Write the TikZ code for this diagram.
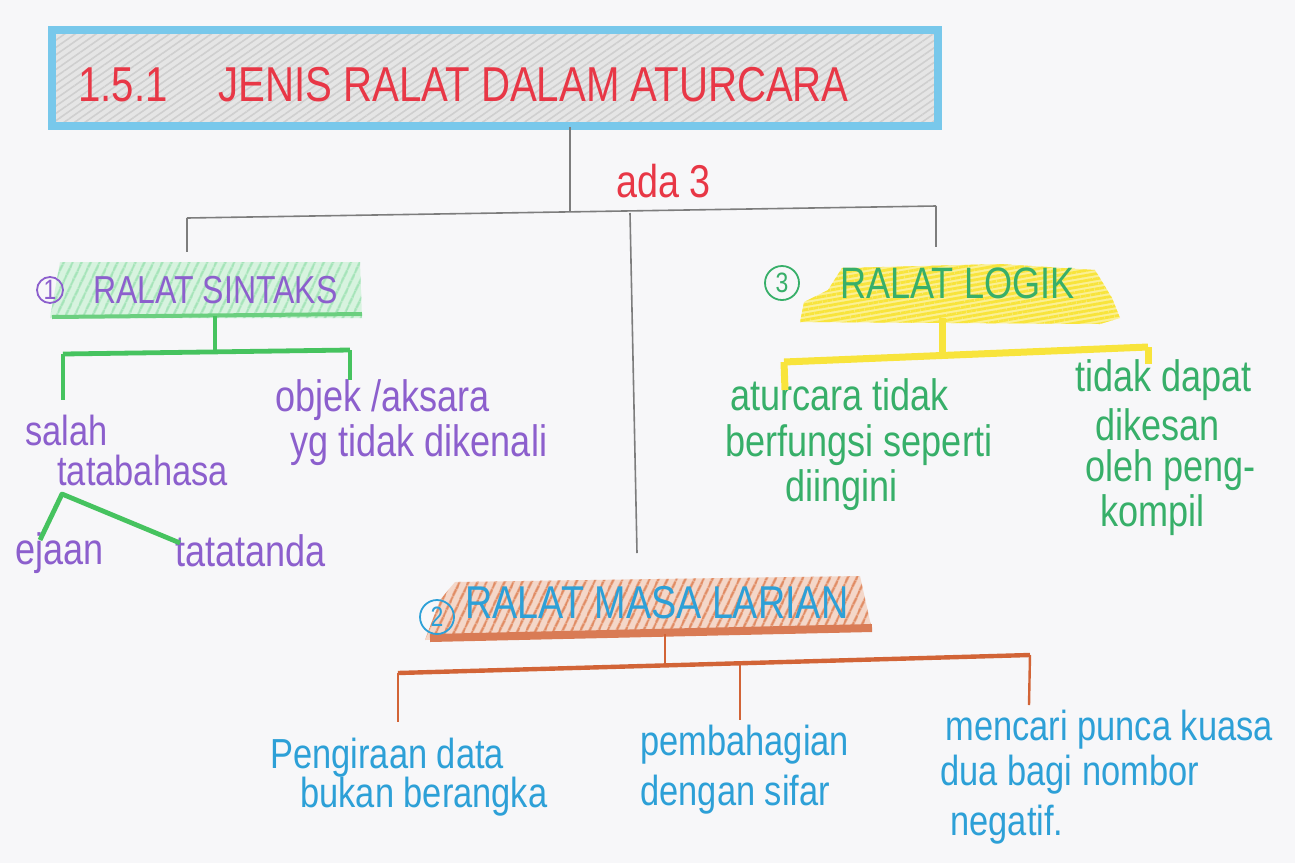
\documentclass[tikz,border=0pt]{standalone}
\usepackage{fontspec}
\setmainfont{Liberation Sans}
\newfontfamily\hand[FakeStretch=0.82]{Liberation Sans}
\usetikzlibrary{patterns.meta}
\definecolor{paper}{RGB}{247,247,249}
\definecolor{tred}{RGB}{232,55,70}
\definecolor{tblue}{RGB}{120,200,235}
\definecolor{tgray}{RGB}{218,218,218}
\definecolor{gline}{RGB}{125,125,125}
\definecolor{purp}{RGB}{140,95,205}
\definecolor{gtext}{RGB}{55,175,105}
\definecolor{btext}{RGB}{45,160,215}
\definecolor{gbar}{RGB}{70,195,95}
\definecolor{ghatch}{RGB}{165,228,185}
\definecolor{yel}{RGB}{248,228,60}
\definecolor{orng}{RGB}{210,100,55}
\definecolor{ohatch}{RGB}{225,140,100}
\tikzset{
  hand/.style={inner sep=0pt, anchor=west, font=\hand\fontsize{#1}{#1}\selectfont},
  hand/.default=22,
  grayline/.style={draw=gline, line width=0.8pt},
  greenline/.style={draw=gbar, line width=2.4pt},
  yelline/.style={draw=yel, line width=3.5pt},
  orline/.style={draw=orng, line width=1.2pt},
  numcirc/.style={circle, draw=#1, text=#1, line width=0.9pt, inner sep=0pt, minimum size=13pt, font=\hand\fontsize{14}{14}\selectfont},
}
\begin{document}
\begin{tikzpicture}[x=0.5pt,y=-0.5pt]
\useasboundingbox[fill=paper] (0,0) rectangle (1295,863);

% ---------- title ----------
\node[draw=tblue, line width=4pt, preaction={fill=tgray!70},
      pattern={Lines[angle=35,distance=3pt,line width=0.8pt]}, pattern color=tgray!80!black!60,
      minimum width=443pt, minimum height=48pt, inner sep=0pt] (title) at (495,78) {};
\node[hand=24.5, text=tred] (num) at (78,85) {1.5.1};
\node[hand=24.5, text=tred] (ttl) at (218,85) {JENIS RALAT DALAM ATURCARA};
\node[hand=23, text=tred] (ada) at (616,181) {ada 3};

% ---------- highlights ----------
\path[preaction={fill=ghatch!45}, pattern={Lines[angle=65,distance=4pt,line width=1.3pt]}, pattern color=ghatch]
  (50,318) -- (60,262) -- (360,262) -- (362,318) -- cycle;
\draw[draw=gbar!80, line width=2pt] (52,317) -- (362,314);
\path[preaction={fill=yel!55}, pattern={Lines[angle=10,distance=2.5pt,line width=1.4pt]}, pattern color=yel]
  (800,322) -- (804,302) -- (828,290) -- (842,268) -- (1000,264) -- (1095,270)
  -- (1112,298) -- (1120,318) -- (1100,324) -- cycle;
\path[preaction={fill=ohatch!35}, pattern={Lines[angle=65,distance=4pt,line width=1.3pt]}, pattern color=ohatch]
  (425,640) -- (440,600) -- (455,582) -- (860,576) -- (872,630) -- cycle;
\draw[draw=orng!85, line width=4pt] (430,638) -- (872,628);

% ---------- headings ----------
\node[numcirc=purp] (c1) at (50,290) {1};
\node[hand=19.5, text=purp] (sintaks) at (93,290) {RALAT SINTAKS};
\node[numcirc=gtext, minimum size=17pt] (c3) at (782,283) {3};
\node[hand=22, text=gtext] (logik) at (840,283) {RALAT LOGIK};
\node[numcirc=btext, minimum size=17pt] (c2) at (437,617) {2};
\node[hand=23, text=btext] (masa) at (465,603) {RALAT MASA LARIAN};

% ---------- sintaks leaves ----------
\node[hand=21, text=purp] (salah) at (25,430) {salah};
\node[hand=21, text=purp] (tata) at (57,470) {tatabahasa};
\node[hand=22, text=purp] (objek) at (275,400) {objek /aksara};
\node[hand=22, text=purp] (yg) at (290,445) {yg tidak dikenali};
\node[hand=22, text=purp] (ejaan) at (15,553) {ejaan};
\node[hand=22, text=purp] (tanda) at (175,551) {tatatanda};

% ---------- logik leaves ----------
\node[hand=22, text=gtext] (atur) at (730,395) {aturcara tidak};
\node[hand=22, text=gtext] (berf) at (725,445) {berfungsi seperti};
\node[hand=22, text=gtext] (diing) at (785,490) {diingini};
\node[hand=22, text=gtext] (tdk) at (1075,380) {tidak dapat};
\node[hand=22, text=gtext] (dikes) at (1095,425) {dikesan};
\node[hand=22, text=gtext] (oleh) at (1085,470) {oleh peng-};
\node[hand=22, text=gtext] (komp) at (1100,515) {kompil};

% ---------- masa larian leaves ----------
\node[hand=21, text=btext] (peng) at (270,758) {Pengiraan data};
\node[hand=21, text=btext] (bukan) at (300,797) {bukan berangka};
\node[hand=21, text=btext] (pemb) at (640,745) {pembahagian};
\node[hand=21, text=btext] (deng) at (640,795) {dengan sifar};
\node[hand=21, text=btext] (menc) at (945,730) {mencari punca kuasa};
\node[hand=21, text=btext] (dua) at (940,775) {dua bagi nombor};
\node[hand=21, text=btext] (neg) at (950,825) {negatif.};

% ---------- gray connectors ----------
\coordinate (bM) at (570,212);
\coordinate (bL) at (187,218);
\coordinate (bR) at (936,206);
\coordinate (dL) at (187,252);
\coordinate (dR) at (936,247);
\coordinate (mTop) at (630,213);
\coordinate (mBot) at (637,553);
\draw[grayline] (title.south -| bM) -- (bM);
\draw[grayline] (bL) -- (bR);
\draw[grayline] (bL) -- (dL);
\draw[grayline] (bR) -- (dR);
\draw[grayline] (mTop) -- (mBot);

% ---------- green tree ----------
\coordinate (gS) at (215,316);
\coordinate (gM) at (215,352);
\coordinate (gL) at (63,354);
\coordinate (gR) at (350,350);
\coordinate (gLd) at (63,400);
\coordinate (gRd) at (350,380);
\draw[greenline] (gS) -- (gM);
\draw[greenline] (gL) -- (gR);
\draw[greenline] (gL) -- (gLd);
\draw[greenline] (gR) -- (gRd);
\coordinate (gV) at (62,494);
\coordinate (gE) at (40,540);
\coordinate (gT) at (180,543);
\draw[greenline, line join=round] (gE) -- (gV) -- (gT);

% ---------- yellow tree ----------
\coordinate (yS) at (942,318);
\coordinate (yM) at (942,356);
\coordinate (yL) at (784,362);
\coordinate (yR) at (1148,347);
\coordinate (yLd) at (785,390);
\coordinate (yRd) at (1148,364);
\draw[yelline] (yS) -- (yM);
\draw[yelline] (yL) -- (yR);
\draw[yelline] (yL) -- (yLd);
\draw[yelline] (yR) -- (yRd);

% ---------- orange tree ----------
\coordinate (oS) at (665,634);
\coordinate (oM) at (665,663);
\coordinate (oL) at (398,673);
\coordinate (oR) at (1030,655);
\coordinate (oMid) at (740,664);
\coordinate (oLd) at (398,722);
\coordinate (oMd) at (740,720);
\coordinate (oRd) at (1029,705);
\draw[orline] (oS) -- (oM);
\draw[orline, line width=2.2pt] (oL) -- (oR);
\draw[orline] (oL) -- (oLd);
\draw[orline] (oMid) -- (oMd);
\draw[orline] (oR) -- (oRd);
\end{tikzpicture}
\end{document}
